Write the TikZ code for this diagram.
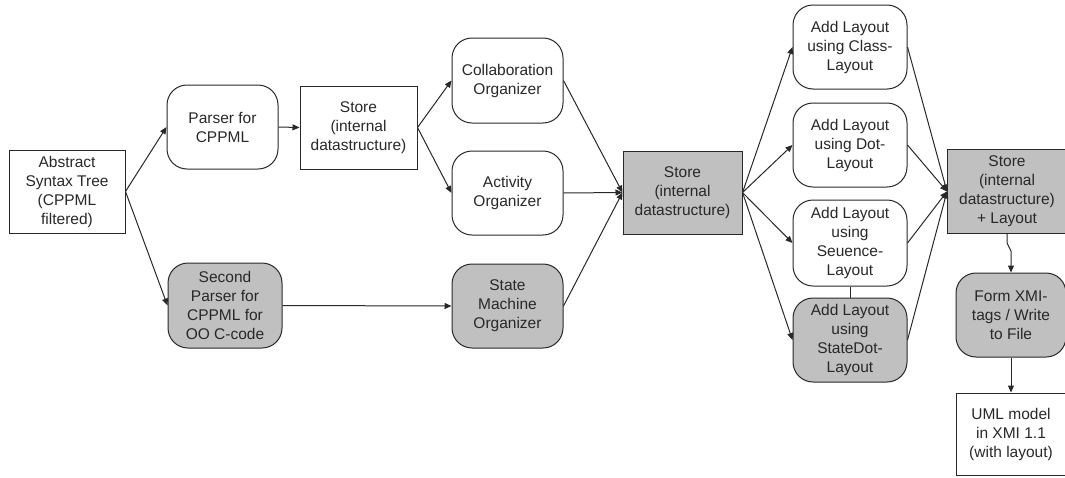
\documentclass[tikz,border=0pt]{standalone}
\usepackage{fontspec}
\setmainfont{Liberation Sans}
\usetikzlibrary{arrows.meta}
\definecolor{boxgray}{RGB}{192,192,192}
\definecolor{ink}{RGB}{40,40,40}
\begin{document}
\begin{tikzpicture}[x=1pt,y=-1pt,
  every node/.style={font=\fontsize{15.5}{19}\selectfont, text=ink, align=center, inner sep=0pt},
  plain/.style={draw=ink, line width=1pt, rectangle, minimum width=#1},
  plain/.default=116pt,
  proc/.style={draw=ink, line width=1pt, rectangle, rounded corners=20pt, minimum width=#1},
  proc/.default=112pt,
  shaded/.style={fill=boxgray},
  arr/.style={draw=ink, line width=1pt, -{Triangle[length=7pt,width=6pt]}},
  link/.style={draw=ink, line width=1pt}
]
\useasboundingbox (0,0) rectangle (1065,477);

% input and first parsing stage
\node[plain=116pt, minimum height=83pt] (ast) at (67,191.5) {Abstract\\Syntax Tree\\(CPPML\\filtered)};
\node[proc=111pt, minimum height=84pt] (parser) at (222.5,127) {Parser for\\CPPML};
\node[proc=114pt, minimum height=85pt, shaded] (sparser) at (225,305.5) {Second\\Parser for\\CPPML for\\OO C-code};
\node[plain=117pt, minimum height=83pt] (store1) at (358.5,127.5) {Store\\(internal\\datastructure)};

% organizers
\node[proc=111pt, minimum height=85pt] (collab) at (507.5,80.5) {Collaboration\\Organizer};
\node[proc=111pt, minimum height=84pt] (activity) at (507.5,193) {Activity\\Organizer};
\node[proc=111pt, minimum height=84pt, shaded] (sm) at (507.5,306) {State\\Machine\\Organizer};
\node[plain=119pt, minimum height=83pt, shaded] (store2) at (682.5,192.5) {Store\\(internal\\datastructure)};

% layout stage
\node[proc=114pt, minimum height=84pt] (class) at (850,47) {Add Layout\\using Class-\\Layout};
\node[proc=114pt, minimum height=84pt] (dot) at (850,145) {Add Layout\\using Dot-\\Layout};
\node[proc=114pt, minimum height=86pt] (seq) at (850,243) {Add Layout\\using\\Seuence-\\Layout};
\node[proc=114pt, minimum height=84pt, shaded] (sdot) at (850,340) {Add Layout\\using\\StateDot-\\Layout};
\node[plain=119pt, minimum height=84pt, shaded] (store3) at (1007,191.5) {Store\\(internal\\datastructure)\\+ Layout};

% output
\node[proc=110pt, minimum height=84pt, shaded] (form) at (1011,315) {Form XMI-\\tags / Write\\to File};
\node[plain=110pt, minimum height=82pt] (uml) at (1011,434) {UML model\\in XMI 1.1\\(with layout)};

% connectors
\draw[arr] (ast.east) -- (parser.west);
\draw[arr] (ast.east) -- (sparser.west);
\draw[arr] (parser.east) -- (store1.west);
\draw[arr] (store1.east) -- (collab.west);
\draw[arr] (store1.east) -- (activity.west);
\draw[arr] (sparser.east) -- (sm.west);
\draw[arr] (collab.east) -- (store2.west);
\draw[arr] (activity.east) -- (store2.west);
\draw[arr] (sm.east) -- (store2.west);
\draw[arr] (store2.east) -- (class.west);
\draw[arr] (store2.east) -- (dot.west);
\draw[arr] (store2.east) -- (seq.west);
\draw[arr] (store2.east) -- (sdot.west);
\draw[arr] (class.east) -- (store3.west);
\draw[arr] (dot.east) -- (store3.west);
\draw[arr] (seq.east) -- (store3.west);
\draw[arr] (sdot.east) -- (store3.west);
\draw[link] (seq.south) -- (sdot.north);
\coordinate (jogA) at ([yshift=-9pt]store3.south);
\coordinate (jogB) at ([yshift=-17pt]store3.south -| form.north);
\draw[arr] (store3.south) -- (jogA) -- (jogB) -- (form.north);
\draw[arr] (form.south) -- (uml.north);
\end{tikzpicture}
\end{document}
